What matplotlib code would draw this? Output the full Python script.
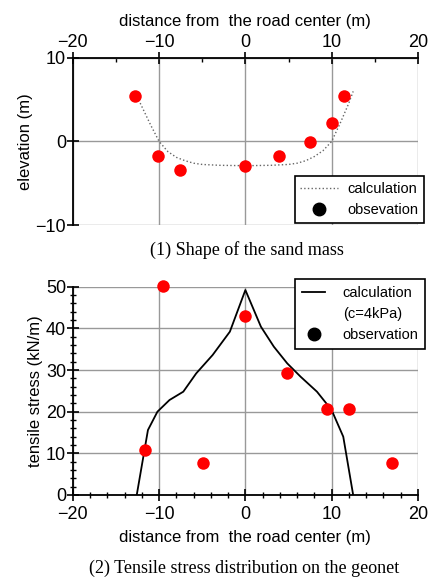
import numpy as np
import matplotlib.pyplot as plt
from matplotlib.lines import Line2D
from matplotlib.ticker import MultipleLocator

# (1) shape of the sand mass
shape_obs_x = [-12.8, -10.1, -7.6, 0.0, 3.9, 7.5, 10.0, 11.4]
shape_obs_y = [5.4, -1.7, -3.4, -2.9, -1.7, -0.1, 2.2, 5.4]
shape_calc_x = [-12.2, -11, -10, -9, -8, -7, -6, -5, -3, 0, 3, 5, 6, 7, 8, 9, 10, 11, 12, 12.5]
shape_calc_y = [4.6, 2.0, 0.0, -1.2, -1.9, -2.3, -2.6, -2.75, -2.85, -2.9, -2.85, -2.75, -2.6,
                -2.3, -1.8, -1.1, 0.0, 2.2, 4.6, 6.0]

# (2) tensile stress on the geonet
stress_obs_x = [-9.5, 0.0, 4.8, 9.5, 12.0, -11.6, -4.9, 17.0]
stress_obs_y = [50.2, 43.0, 29.4, 20.6, 20.6, 10.8, 7.8, 7.8]
stress_calc_x = [-12.6, -11.3, -10.2, -8.8, -7.2, -5.7, -3.8, -1.8, 0.0,
                 1.8, 3.3, 4.85, 6.4, 8.3, 10.0, 11.35, 12.5]
stress_calc_y = [0, 15.6, 20.0, 22.8, 24.8, 29.2, 33.6, 39.2, 49.2,
                 40.4, 35.6, 31.6, 28.4, 24.8, 20.4, 14.0, 0]

font = 'Liberation Sans'
fs = 12

fig = plt.figure(figsize=(4.29, 5.78), dpi=100)

# top panel
ax1 = fig.add_axes([0.170, 0.6107, 0.804, 0.289])
ax1.plot(shape_calc_x, shape_calc_y, ls=':', color='#666666', lw=1.0)
ax1.plot(shape_obs_x, shape_obs_y, 'o', color='red', ms=9, mec='none')
ax1.set_xlim(-20, 20)
ax1.set_ylim(-10, 10)
ax1.xaxis.tick_top()
ax1.xaxis.set_label_position('top')
ax1.xaxis.set_major_locator(MultipleLocator(10))
ax1.xaxis.set_minor_locator(MultipleLocator(5))
ax1.yaxis.set_major_locator(MultipleLocator(10))
ax1.grid(True, color='#999999', lw=1.0)
for s in ['right', 'bottom']:
    ax1.spines[s].set_visible(False)
for s in ['top', 'left']:
    ax1.spines[s].set_linewidth(1.3)
ax1.tick_params(which='major', direction='inout', length=8, width=1.2, labelsize=13, pad=1)
ax1.tick_params(which='minor', direction='in', length=3, width=1.0)
ax1.set_xlabel('distance from  the road center (m)', fontsize=fs, family=font, labelpad=6)
ax1.set_ylabel('elevation (m)', fontsize=fs, family=font, labelpad=2)
for lab in ax1.get_xticklabels() + ax1.get_yticklabels():
    lab.set_family(font)
h1 = [Line2D([], [], ls=':', color='#666666', lw=1.0),
      Line2D([], [], ls='none', marker='o', color='black', ms=9)]
leg1 = ax1.legend(h1, ['calculation', 'obsevation'], loc='lower right',
                  bbox_to_anchor=(0.988, 0.614), bbox_transform=fig.transFigure,
                  frameon=True, fancybox=False, framealpha=1, borderaxespad=0,
                  edgecolor='black', prop={'family': font, 'size': 10.5},
                  handlelength=2.6, handletextpad=0.6, borderpad=0.4, labelspacing=0.5)
leg1.get_frame().set_linewidth(1.2)

fig.text(0.575, 0.567, '(1) Shape of the sand mass', ha='center', va='center',
         fontsize=13, family='Liberation Serif')

# bottom panel
ax2 = fig.add_axes([0.170, 0.1436, 0.804, 0.3604])
ax2.plot(stress_calc_x, stress_calc_y, '-', color='black', lw=1.3)
ax2.plot(stress_obs_x, stress_obs_y, 'o', color='red', ms=9, mec='none', clip_on=False, zorder=5)
ax2.set_xlim(-20, 20)
ax2.set_ylim(0, 50)
ax2.xaxis.set_major_locator(MultipleLocator(10))
ax2.xaxis.set_minor_locator(MultipleLocator(2))
ax2.yaxis.set_major_locator(MultipleLocator(10))
ax2.yaxis.set_minor_locator(MultipleLocator(2))
ax2.grid(True, color='#999999', lw=1.0)
for s in ['right', 'top']:
    ax2.spines[s].set_visible(False)
for s in ['bottom', 'left']:
    ax2.spines[s].set_linewidth(1.3)
ax2.tick_params(which='major', direction='inout', length=8, width=1.2, labelsize=13, pad=1)
ax2.tick_params(axis='x', which='major', pad=4)
ax2.tick_params(which='minor', direction='inout', length=5, width=1.0)
ax2.set_xlabel('distance from  the road center (m)', fontsize=fs, family=font, labelpad=5)
ax2.set_ylabel('tensile stress (kN/m)', fontsize=fs, family=font, labelpad=2)
for lab in ax2.get_xticklabels() + ax2.get_yticklabels():
    lab.set_family(font)
h2 = [Line2D([], [], ls='-', color='black', lw=1.3),
      Line2D([], [], ls='none'),
      Line2D([], [], ls='none', marker='o', color='black', ms=9)]
leg2 = ax2.legend(h2, ['calculation', '(c=4kPa)', 'observation'], loc='upper right',
                  bbox_to_anchor=(0.991, 0.517), bbox_transform=fig.transFigure,
                  frameon=True, fancybox=False, framealpha=1, borderaxespad=0,
                  edgecolor='black', prop={'family': font, 'size': 10.5},
                  handlelength=1.6, handletextpad=1.2, borderpad=0.45, labelspacing=0.5)
leg2.get_frame().set_linewidth(1.2)

fig.text(0.569, 0.017, '(2) Tensile stress distribution on the geonet', ha='center',
         va='center', fontsize=13, family='Liberation Serif')

fig.savefig('out.png', dpi=100)
